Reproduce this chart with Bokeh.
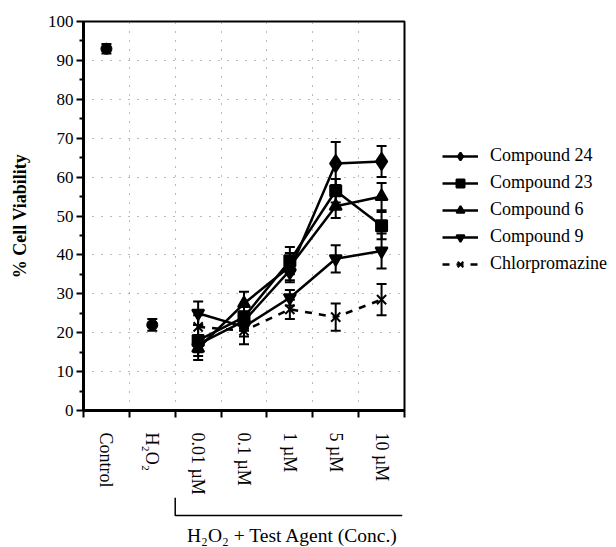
import math
from bokeh.plotting import figure
from bokeh.layouts import column, row
from bokeh.models import (Range1d, FixedTicker, ColumnDataSource, Whisker, TeeHead,
                          Legend, LegendItem)
from bokeh.core.properties import value
from bokeh.embed import file_html
from bokeh.resources import INLINE

# ---- data ----
categories = ["Control", "H\u2082O\u2082", "0.01 \u00b5M", "0.1 \u00b5M", "1 \u00b5M", "5 \u00b5M", "10 \u00b5M"]
ref_x = [0, 1]
ref_y = [93, 22]
ref_err = [1.2, 1.5]

conc_x = [2, 3, 4, 5, 6]
cmp24 = [17, 23, 36, 63.5, 64]
cmp24_err = [2, 2.5, 3, 5.5, 4]
cmp23 = [18, 24, 38.5, 56.5, 47.5]
cmp23_err = [4, 3, 3.5, 3, 3.5]
cmp6 = [16, 27.5, 37, 52.5, 55]
cmp6_err = [3, 3, 3.5, 3, 3.5]
cmp9 = [25, 21.5, 29, 39, 41]
cmp9_err = [3, 2.5, 2, 3.5, 4.5]
chlor = [21.5, 20.5, 26, 24, 28.5]
chlor_err = [3, 3.5, 2.5, 3.5, 4]

group_label = "H\u2082O\u2082 + Test Agent (Conc.)"
group_first, group_last = 2, 6

y_ticks = list(range(0, 101, 10))
y_minor = list(range(5, 100, 10))

SERIF = "Liberation Serif"
LEFT = 83
MAIN_W = 406

p = figure(width=MAIN_W, height=497, output_backend="svg", toolbar_location=None,
           x_range=Range1d(-0.5, 6.5), y_range=Range1d(0, 100),
           min_border_left=LEFT, min_border_right=2, min_border_top=21, min_border_bottom=86)
p.background_fill_color = "white"
p.border_fill_color = "white"
p.outline_line_color = "black"
p.outline_line_width = 2

# x axis
xa = p.xaxis[0]
xa.ticker = FixedTicker(ticks=list(range(7)), minor_ticks=[i + 0.5 for i in range(-1, 7)])
xa.major_label_overrides = {i: c for i, c in enumerate(categories)}
xa.major_label_orientation = -math.pi / 2
xa.major_tick_line_color = None
xa.major_tick_out = 0
xa.major_tick_in = 0
xa.minor_tick_out = 7
xa.minor_tick_in = 0
xa.minor_tick_line_color = "black"
xa.minor_tick_line_width = 2
xa.axis_line_width = 3
xa.major_label_standoff = 15
xa.major_label_text_font = SERIF
xa.major_label_text_font_size = "18px"
xa.major_label_text_color = "black"

# y axis
ya = p.yaxis[0]
ya.ticker = FixedTicker(ticks=y_ticks, minor_ticks=y_minor)
ya.major_tick_out = 7
ya.major_tick_in = 0
ya.minor_tick_out = 4
ya.minor_tick_in = 0
ya.major_tick_line_width = 2
ya.minor_tick_line_width = 2
ya.axis_line_width = 3
ya.major_label_text_font = SERIF
ya.major_label_text_font_size = "17px"
ya.major_label_text_color = "black"
ya.major_label_standoff = 3
ya.axis_label = "% Cell Viability"
ya.axis_label_text_font = SERIF
ya.axis_label_text_font_style = "bold"
ya.axis_label_text_font_size = "18px"
ya.axis_label_text_color = "black"
ya.axis_label_standoff = 15

# grid
p.xgrid.ticker = FixedTicker(ticks=[i + 0.5 for i in range(0, 6)])
p.ygrid.ticker = FixedTicker(ticks=list(range(10, 100, 10)))
for g in (p.xgrid, p.ygrid):
    g.grid_line_color = "#777777"
    g.grid_line_dash = "1 8"
    g.grid_line_width = 1

def add_err(xs, ys, es):
    src = ColumnDataSource(dict(x=xs, lo=[y - e for y, e in zip(ys, es)], hi=[y + e for y, e in zip(ys, es)]))
    w = Whisker(source=src, base="x", lower="lo", upper="hi", line_width=2, line_color="black",
                upper_head=TeeHead(size=10, line_width=2, line_color="black"),
                lower_head=TeeHead(size=10, line_width=2, line_color="black"))
    p.add_layout(w)

# control / H2O2
add_err(ref_x, ref_y, ref_err)
p.scatter(ref_x, ref_y, marker="circle", size=11, color="black")

series = [
    ("Compound 24", cmp24, cmp24_err, "diamond", 17, "solid"),
    ("Compound 23", cmp23, cmp23_err, "square", 11, "solid"),
    ("Compound 6", cmp6, cmp6_err, "triangle", 12, "solid"),
    ("Compound 9", cmp9, cmp9_err, "inverted_triangle", 12, "solid"),
    ("Chlorpromazine", chlor, chlor_err, "x", 13, "7 7"),
]

# legend panel (separate figure to the right)
p3 = figure(width=616 - MAIN_W, height=547, output_backend="svg", toolbar_location=None,
            x_range=Range1d(0, 1), y_range=Range1d(0, 1),
            min_border_left=0, min_border_right=0, min_border_top=0, min_border_bottom=0,
            x_axis_location=None, y_axis_location=None)
p3.outline_line_color = None
p3.grid.visible = False
p3.background_fill_color = "white"
p3.border_fill_color = "white"

items = []
for name, ys, es, mk, sz, dash in series:
    add_err(conc_x, ys, es)
    p.line(conc_x, ys, line_color="black", line_width=2.5, line_dash=dash)
    p.scatter(conc_x, ys, marker=mk, size=sz, fill_color="black", line_color="black", line_width=2)
    lr = p3.line([-5, -4], [-5, -4], line_color="black", line_width=2.5, line_dash=dash)
    mr = p3.scatter([-5], [-5], marker=mk, size=sz, fill_color="black", line_color="black", line_width=2)
    items.append(LegendItem(label=name, renderers=[lr, mr]))

leg = Legend(items=items, location=(442 - MAIN_W, 547 - 274), glyph_width=36, glyph_height=20, spacing=6,
             label_standoff=12, padding=0, margin=0, border_line_color=None,
             background_fill_alpha=0, label_text_font=SERIF, label_text_font_size="18px",
             label_text_color="black", label_height=20)
p3.add_layout(leg, "center")

# strip below: bracket and group label
p2 = figure(width=MAIN_W, height=50, output_backend="svg", toolbar_location=None,
            x_range=p.x_range, y_range=Range1d(0, 50),
            min_border_left=LEFT, min_border_right=2, min_border_top=0, min_border_bottom=0,
            x_axis_location=None, y_axis_location=None)
p2.outline_line_color = None
p2.grid.visible = False
p2.background_fill_color = "white"
p2.border_fill_color = "white"
bx0 = group_first - 0.5
bx1 = group_last + 0.45
p2.line([bx0, bx0, bx1], [50, 32, 32], line_color="black", line_width=1.5)
p2.text(x=[(group_first + group_last) / 2 + 0.06], y=[12], text=[group_label], text_align="center",
        text_baseline="middle", text_font=value(SERIF), text_font_size="19.5px", text_color="black")

layout = row(column(p, p2, spacing=0), p3, spacing=0)
open("out.html", "w").write(file_html(layout, INLINE))
